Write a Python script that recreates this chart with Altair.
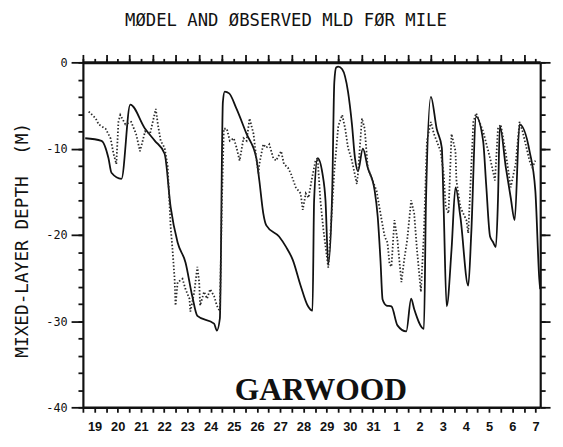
import altair as alt
import pandas as pd

# ---- data (days since 19th, 00h; depth in metres, negative down) ----
model_day = [0.1, 0.8, 1.10, 1.23, 1.66, 2.04, 2.68, 3.10, 3.52, 3.78, 4.08, 4.42, 4.71, 4.93,
             5.65, 5.77, 5.90, 6.03, 6.11, 6.30, 6.62, 7.05, 7.47, 7.60, 7.77, 7.90, 8.45, 8.75,
             9.04, 9.38, 9.68, 9.89, 9.96, 10.11, 10.32, 10.45, 10.57, 10.74, 10.83, 10.91,
             11.0, 11.17, 11.42, 11.59, 11.72, 11.85, 12.06, 12.27, 12.57, 12.70, 12.82, 12.91,
             13.08, 13.29, 13.55, 13.93, 14.14, 14.27, 14.69, 14.78, 14.99, 15.24, 15.46, 15.54,
             15.67, 15.88, 16.05, 16.26, 16.60, 16.73, 16.94, 17.24, 17.37, 17.54, 17.66, 17.79,
             17.88, 17.96, 18.22, 18.43, 18.60, 18.81, 19.24, 19.49, 19.66, 19.70]
model_depth = [-8.8, -9.1, -11.1, -12.8, -13.5, -4.9, -7.7, -9.1, -10.6, -16.8, -20.9, -23.2, -27.1, -29.4,
               -30.3, -31.1, -29.7, -4.6, -3.4, -3.6, -5.4, -8.3, -11.1, -13.7, -17.5, -18.9, -20.2, -21.4,
               -22.9, -25.9, -28.2, -28.8, -16.0, -11.1, -12.9, -16.0, -23.4, -14.9, -2.3, -0.6,
               -0.5, -0.8, -3.4, -7.2, -11.1, -12.6, -10.0, -12.2, -14.9, -17.9, -23.0, -27.5,
               -28.2, -28.3, -30.5, -31.2, -27.4, -28.6, -30.9, -16.0, -4.0, -7.7, -9.9, -16.8,
               -28.3, -21.7, -14.5, -17.9, -25.9, -19.8, -6.3, -9.1, -14.1, -20.2, -20.8, -21.4,
               -16.0, -7.4, -12.2, -15.7, -18.3, -7.2, -10.3, -14.9, -25.1, -26.3]

obs_day = [0.25, 0.55, 0.68, 0.98, 1.19, 1.32, 1.44, 1.53, 1.61, 1.83, 2.08, 2.29, 2.46, 2.68, 2.89,
           3.14, 3.23, 3.35, 3.52, 3.65, 3.78, 3.86, 3.95, 3.99, 4.08, 4.29, 4.42, 4.59, 4.63, 4.80,
           4.93, 5.01, 5.05, 5.22, 5.35, 5.48, 5.65, 5.77, 5.90, 5.99, 6.07, 6.20, 6.33, 6.50, 6.62,
           6.75, 6.92, 7.05, 7.18, 7.35, 7.47, 7.56, 7.60, 7.77, 7.90, 8.03, 8.20, 8.32, 8.54, 8.66,
           8.83, 8.96, 9.17, 9.38, 9.47, 9.60, 9.72, 9.85, 10.02, 10.11, 10.23, 10.36, 10.57, 10.70,
           10.83, 11.0, 11.17, 11.30, 11.42, 11.59, 11.80, 11.85, 12.02, 12.14, 12.27, 12.48, 12.65,
           12.87, 13.0, 13.12, 13.21, 13.29, 13.42, 13.55, 13.72, 13.84, 13.97, 14.14, 14.27, 14.39,
           14.56, 14.69, 14.82, 14.99, 15.12, 15.41, 15.54, 15.63, 15.75, 15.88, 16.05, 16.09, 16.26,
           16.52, 16.60, 16.82, 16.94, 17.24, 17.54, 17.75, 17.88, 18.0, 18.22, 18.43, 18.64, 18.81,
           18.94, 19.24, 19.36, 19.49]
obs_depth = [-5.7, -6.5, -7.2, -7.7, -8.8, -10.6, -11.8, -6.9, -6.1, -7.2, -6.9, -8.3, -10.3, -8.0, -8.3,
             -5.4, -7.2, -9.1, -9.9, -12.0, -19.1, -21.7, -25.1, -28.2, -25.5, -25.1, -26.3, -27.4, -28.9, -26.6,
             -23.7, -25.5, -28.2, -26.6, -27.4, -26.3, -27.1, -28.2, -28.9, -16.0, -7.7, -7.7, -9.1, -8.8, -9.9,
             -11.4, -8.8, -9.1, -6.5, -8.3, -11.1, -12.9, -11.8, -9.5, -9.9, -9.5, -11.1, -11.4, -10.3, -11.8,
             -12.2, -12.9, -14.5, -15.2, -17.1, -15.2, -15.7, -13.7, -11.4, -11.1, -16.0, -19.4, -23.8, -18.3,
             -12.6, -7.4, -6.1, -7.7, -9.9, -11.4, -14.1, -12.9, -6.5, -7.7, -12.2, -13.7, -14.9,
             -18.3, -20.2, -20.9, -23.4, -23.7, -18.3, -20.6, -25.5, -22.9, -20.6, -16.0, -17.5, -21.7,
             -26.6, -19.8, -9.1, -6.9, -8.3, -10.3, -12.9, -16.8, -17.5, -8.3, -10.3, -13.7, -16.8,
             -18.3, -19.8, -6.9, -5.9, -8.0, -11.1, -13.7, -7.7, -7.2, -10.6, -14.5, -11.8, -6.9,
             -8.0, -11.4, -12.2, -11.4]

date_labels = ["19", "20", "21", "22", "23", "24", "25", "26", "27", "28", "29", "30", "31",
               "1", "2", "3", "4", "5", "6", "7"]
major_depths = [0, -10, -20, -30, -40]
minor_depths = list(range(-40, 1, 2))
whole_days = list(range(0, 20))
half_days = [i * 0.5 for i in range(40)]

title_text = "MØDEL AND ØBSERVED MLD FØR MILE"
y_title = "MIXED-LAYER DEPTH\u00a0\u00a0(M)"
annotation = "GARWOOD"

model_df = pd.DataFrame({"day": model_day, "depth": model_depth})
obs_df = pd.DataFrame({"day": obs_day, "depth": obs_depth})

xs = alt.Scale(domain=[0, 19.7], nice=False, zero=False)
ys = alt.Scale(domain=[-40, 0], nice=False, zero=False)

INK = "#111111"


def ax(**kw):
    base = dict(grid=False, domain=False, labels=False, ticks=True,
                tickColor=INK, tickWidth=1.8, domainColor=INK, domainWidth=2.2, title=None)
    base.update(kw)
    return alt.Axis(**base)


label_array = "[" + ",".join("'" + s + "'" for s in date_labels) + "]"
x_label_expr = "(datum.value % 1) == 0.5 ? " + label_array + "[floor(datum.value)] : ''"

solid = alt.Chart(model_df).mark_line(color=INK, strokeWidth=1.8, interpolate="monotone").encode(
    x=alt.X("day:Q", scale=xs, axis=ax(
        orient="bottom", values=half_days, tickSize=5, domain=True, domainWidth=2.6,
        labels=True, labelExpr=x_label_expr,
        labelFont="Liberation Sans", labelFontWeight="bold", labelFontSize=13, labelColor=INK,
        labelPadding=9, labelOverlap=False, labelFlush=False,
        title=annotation, titleFont="Liberation Serif", titleFontSize=32, titleFontWeight="bold",
        titleColor=INK, titleX=241, titleY=-8, titleAlign="center", titleBaseline="alphabetic")),
    y=alt.Y("depth:Q", scale=ys, axis=ax(orient="left", values=minor_depths, tickSize=5,
                                         domain=True)),
)

observed = alt.Chart(obs_df).mark_line(color="#2a2a2a", strokeWidth=1.8, strokeDash=[1.5, 2]).encode(
    x=alt.X("day:Q", scale=xs, axis=ax(orient="top", values=whole_days, tickSize=8)),
    y=alt.Y("depth:Q", scale=ys, axis=ax(
        orient="left", values=major_depths, tickSize=12, labels=True, labelExpr="'' + datum.value",
        labelFont="DejaVu Sans Mono", labelFontSize=12, labelColor=INK, labelPadding=4,
        labelFlush=False, labelOverlap=False,
        title=y_title, titleFont="DejaVu Sans Mono", titleFontSize=18, titleFontWeight="normal",
        titleColor=INK, titleX=-61, titleY=180, titleAngle=270, titleAlign="center",
        titleBaseline="middle")),
)

extra1 = alt.Chart(model_df).mark_line(opacity=0).encode(
    x=alt.X("day:Q", scale=xs, axis=ax(orient="top", values=half_days, tickSize=4,
                                       domain=True, domainWidth=3)),
    y=alt.Y("depth:Q", scale=ys, axis=ax(orient="right", values=minor_depths, tickSize=5,
                                         domain=True)),
)

extra2 = alt.Chart(model_df).mark_line(opacity=0).encode(
    x=alt.X("day:Q", scale=xs, axis=None),
    y=alt.Y("depth:Q", scale=ys, axis=ax(orient="right", values=major_depths, tickSize=10)),
)

chart = alt.layer(solid, observed, extra1, extra2).resolve_axis(
    x="independent", y="independent"
).properties(
    width=464,
    height=350,
    title=alt.TitleParams(title_text, font="DejaVu Sans Mono", fontSize=17.5, fontWeight="normal",
                          color=INK, anchor="middle", dx=-26, offset=24),
    autosize=alt.AutoSizeParams(type="none"),
    padding={"left": 76, "top": 52, "right": 15, "bottom": 29},
).configure_view(stroke=INK, strokeWidth=2).configure(background="white")

chart.save("out.html", embed_options={"renderer": "svg", "actions": False})
